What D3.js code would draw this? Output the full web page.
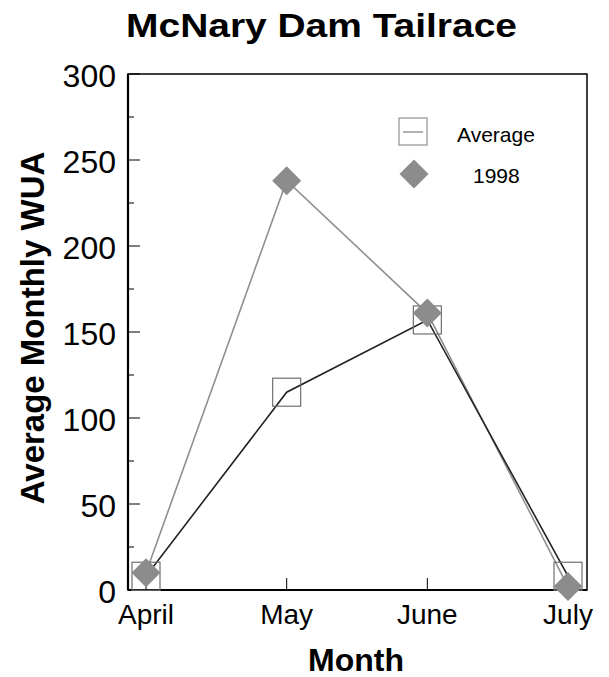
<!DOCTYPE html>
<html><head><meta charset="utf-8">
<script src="https://cdn.jsdelivr.net/npm/d3@7"></script>
<style>body{margin:0;background:#fff;}svg{font-family:"Liberation Sans",Arial,sans-serif;}</style>
</head><body><svg id="c" width="609" height="677"></svg>
<script>
const months = ["April","May","June","July"];
const average = [8, 115, 157, 8];
const y1998 = [10, 238, 161, 2];
const yTicks = [0,50,100,150,200,250,300];
const minorTicks = [25,75,125,175,225,275];

const svg = d3.select("#c");
const L=128,R=587,T=74,B=590;
const x = d3.scaleLinear().domain([-0.128,3.135]).range([L,R]);
const y = d3.scaleLinear().domain([0,300]).range([B,T]);

svg.append("text").attr("transform","translate(321.5,37) scale(1.18,1)").attr("text-anchor","middle")
  .attr("font-size",33).attr("font-weight","bold").text("McNary Dam Tailrace");

// frame
svg.append("rect").attr("x",L).attr("y",T).attr("width",R-L).attr("height",B-T)
  .attr("fill","none").attr("stroke","#000").attr("stroke-width",1.5);
svg.append("line").attr("x1",L).attr("x2",L).attr("y1",T).attr("y2",B).attr("stroke","#000").attr("stroke-width",2.2);
svg.append("line").attr("x1",L).attr("x2",R).attr("y1",B).attr("y2",B).attr("stroke","#000").attr("stroke-width",2.2);

// y ticks
const gy = svg.append("g");
yTicks.forEach(v=>{
  gy.append("line").attr("x1",L).attr("x2",L+12).attr("y1",y(v)).attr("y2",y(v)).attr("stroke","#000");
  gy.append("text").attr("x",116).attr("y",y(v)+12.5).attr("text-anchor","end").attr("font-size",32).text(v);
});
minorTicks.forEach(v=>{
  gy.append("line").attr("x1",L).attr("x2",L+6).attr("y1",y(v)).attr("y2",y(v)).attr("stroke","#000");
});
// x ticks
months.forEach((m,i)=>{
  svg.append("line").attr("x1",x(i)).attr("x2",x(i)).attr("y1",B).attr("y2",B-12).attr("stroke","#000");
  svg.append("text").attr("x",x(i)).attr("y",624).attr("text-anchor","middle").attr("font-size",28).text(m);
});
svg.append("text").attr("x",356).attr("y",671).attr("text-anchor","middle")
  .attr("font-size",32).attr("font-weight","bold").text("Month");
svg.append("text").attr("transform","translate(44,328) rotate(-90)").attr("text-anchor","middle")
  .attr("font-size",33).attr("font-weight","bold").text("Average Monthly WUA");

const line = d3.line().x((d,i)=>x(i)).y(d=>y(d));
svg.append("path").datum(y1998).attr("d",line).attr("fill","none").attr("stroke","#909090").attr("stroke-width",1.6);
svg.append("path").datum(average).attr("d",line).attr("fill","none").attr("stroke","#222").attr("stroke-width",1.6);

// markers
average.forEach((v,i)=>{
  svg.append("rect").attr("x",x(i)-14).attr("y",y(v)-14).attr("width",28).attr("height",28)
    .attr("fill","none").attr("stroke","#707070").attr("stroke-width",1.2);
});
const diamond = (cx,cy,r)=>`M${cx},${cy-r}L${cx+r},${cy}L${cx},${cy+r}L${cx-r},${cy}Z`;
y1998.forEach((v,i)=>{
  svg.append("path").attr("d",diamond(x(i),y(v),14.5)).attr("fill","#8c8c8c");
});

// legend
svg.append("rect").attr("x",399).attr("y",118).attr("width",28).attr("height",27).attr("fill","none").attr("stroke","#909090").attr("stroke-width",1.2);
svg.append("line").attr("x1",403).attr("x2",423).attr("y1",132).attr("y2",132).attr("stroke","#909090").attr("stroke-width",1.4);
svg.append("text").attr("x",457).attr("y",142).attr("font-size",21).text("Average");
svg.append("path").attr("d",diamond(414,174,14.5)).attr("fill","#8c8c8c");
svg.append("text").attr("x",473).attr("y",183).attr("font-size",21).text("1998");
</script></body></html>
